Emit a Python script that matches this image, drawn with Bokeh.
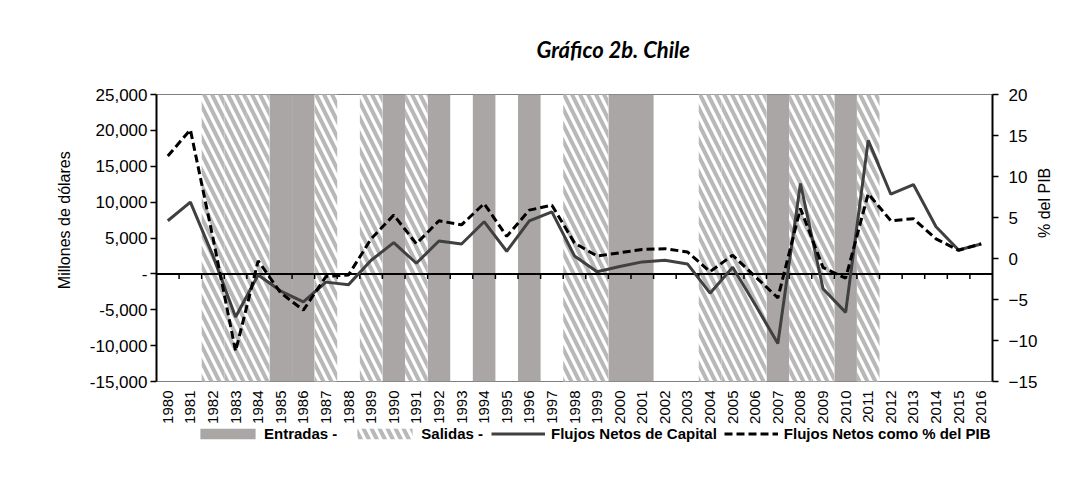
from math import pi
from bokeh.plotting import figure
from bokeh.layouts import column
from bokeh.models import (Range1d, LinearAxis, FixedTicker, NumeralTickFormatter,
                          Span, Legend, LegendItem, ColumnDataSource)
from bokeh.embed import file_html
from bokeh.resources import INLINE

# ---------------- data ----------------
years = [1980, 1981, 1982, 1983, 1984, 1985, 1986, 1987, 1988, 1989,
         1990, 1991, 1992, 1993, 1994, 1995, 1996, 1997, 1998, 1999,
         2000, 2001, 2002, 2003, 2004, 2005, 2006, 2007, 2008, 2009,
         2010, 2011, 2012, 2013, 2014, 2015, 2016]

# Flujos netos de capital (millones de dólares)
flujos = [7400, 10000, 2500, -6000, -150, -2400, -3900, -1150, -1500, 1900,
          4350, 1480, 4580, 4170, 7270, 3150, 7400, 8650, 2500, 300,
          1020, 1670, 1900, 1390, -2690, 920, -4300, -9700, 12600, -2080,
          -5370, 18600, 11100, 12450, 6570, 3330, 4170]

# Flujos netos como % del PIB
pct_pib = [12.5, 15.7, 2.5, -11.3, -0.3, -4.2, -6.3, -2.2, -2.0, 2.4,
           5.3, 1.8, 4.6, 4.1, 6.7, 2.7, 5.9, 6.5, 1.9, 0.3,
           0.7, 1.1, 1.2, 0.8, -1.6, 0.4, -2.2, -4.8, 6.1, -1.1,
           -2.4, 7.9, 4.6, 4.85, 2.4, 1.0, 1.8]

entradas_years = [1985, 1986, 1990, 1992, 1994, 1996, 2000, 2001, 2007, 2010]
salidas_years = [1982, 1983, 1984, 1987, 1989, 1991, 1998, 1999, 2004, 2005,
                 2006, 2008, 2009, 2011]

left_min, left_max, left_step = -15000, 25000, 5000
right_min, right_max, right_step = -15, 20, 5

title_text = "Gráfico 2b. Chile"
left_label = "Millones de dólares"
right_label = "% del PIB"
legend_labels = ["Entradas -", "Salidas -", "Flujos Netos de Capital",
                 "Flujos Netos como % del PIB"]

# ---------------- styles ----------------
FONT = "Liberation Sans"
ENT_COLOR = "#aaa6a6"
SOL_COLOR = "#404040"
HATCH = dict(hatch_pattern="\\", hatch_color="#b8b8b8",
             hatch_weight=4, hatch_scale=16)
NBSP = "\u00a0"

n = len(years)
centers = [i + 0.5 for i in range(n)]

ent_src = ColumnDataSource(dict(
    left=[years.index(y) for y in entradas_years],
    right=[years.index(y) + 1 for y in entradas_years]))
sal_src = ColumnDataSource(dict(
    left=[years.index(y) for y in salidas_years],
    right=[years.index(y) + 1 for y in salidas_years]))
line_src = ColumnDataSource(dict(x=centers, flujos=flujos, pct=pct_pib))

# ---------------- main figure ----------------
p = figure(width=1091, height=426,
           x_range=Range1d(0, n), y_range=Range1d(left_min, left_max),
           output_backend="svg", toolbar_location=None,
           min_border_left=156, min_border_right=99,
           min_border_top=94, min_border_bottom=44,
           title=title_text)
p.background_fill_color = "white"
p.border_fill_color = "white"
p.outline_line_color = None
p.xgrid.visible = False
p.ygrid.visible = False

p.title.align = "left"
p.title.offset = 380
p.title.text_font = "Lato"
p.title.text_font_size = "22px"
p.title.text_font_style = "bold italic"
p.title.text_color = "black"
p.title.standoff = 64

p.extra_y_ranges = {"pct": Range1d(right_min, right_max)}

# frame top / bottom thin lines under bands
for loc in (left_min, left_max):
    p.add_layout(Span(location=loc, dimension="width", line_color="black",
                      line_width=1, level="underlay"))

# bands
p.quad(left="left", right="right", bottom=left_min, top=left_max,
       source=ent_src, fill_color=ENT_COLOR, line_color=None)
p.quad(left="left", right="right", bottom=left_min, top=left_max,
       source=sal_src, fill_color="white", line_color=None, **HATCH)

# zero line with ticks at category boundaries
p.segment(x0=[0], x1=[n], y0=[0], y1=[0], line_color="black", line_width=2)
p.segment(x0=list(range(1, n)), x1=list(range(1, n)),
          y0=[0] * (n - 1), y1=[-700] * (n - 1),
          line_color="black", line_width=1.5)

# lines
p.line("x", "flujos", source=line_src, line_color=SOL_COLOR, line_width=3)
p.line("x", "pct", source=line_src, line_color="black", line_width=3,
       line_dash="8 4", y_range_name="pct")

# ---------------- axes ----------------
xa = p.xaxis[0]
xa.ticker = FixedTicker(ticks=centers)
xa.major_label_overrides = {c: str(y) for c, y in zip(centers, years)}
xa.major_label_orientation = pi / 2
xa.axis_line_color = None
xa.major_tick_line_color = None
xa.minor_tick_line_color = None
xa.major_label_standoff = 3
xa.major_label_text_font = FONT
xa.major_label_text_font_size = "15px"
xa.major_label_text_color = "black"

ya = p.yaxis[0]
ya.ticker = FixedTicker(ticks=list(range(left_min, left_max + 1, left_step)))
ya.formatter = NumeralTickFormatter(format="0,0")
ya.major_label_overrides = {0: "-"}
ya.axis_line_color = "black"
ya.axis_line_width = 2
ya.major_tick_line_color = "black"
ya.major_tick_line_width = 1.5
ya.major_tick_out = 6
ya.major_tick_in = 0
ya.minor_tick_line_color = None
ya.major_label_standoff = 3
ya.major_label_text_font = FONT
ya.major_label_text_font_size = "17px"
ya.major_label_text_color = "black"
ya.axis_label = NBSP * 8 + left_label
ya.axis_label_text_font = FONT
ya.axis_label_text_font_size = "16px"
ya.axis_label_text_font_style = "normal"
ya.axis_label_text_color = "black"
ya.axis_label_standoff = 14

ra = LinearAxis(y_range_name="pct",
                ticker=FixedTicker(ticks=list(range(right_min, right_max + 1, right_step))))
ra.axis_line_color = "black"
ra.axis_line_width = 2
ra.major_tick_line_color = "black"
ra.major_tick_line_width = 1.5
ra.major_tick_out = 6
ra.major_tick_in = 0
ra.minor_tick_line_color = None
ra.major_label_standoff = 10
ra.major_label_text_font = FONT
ra.major_label_text_font_size = "17px"
ra.major_label_text_color = "black"
ra.axis_label = right_label
ra.axis_label_text_font = FONT
ra.axis_label_text_font_size = "16px"
ra.axis_label_text_font_style = "normal"
ra.axis_label_text_color = "black"
ra.axis_label_standoff = 4
try:
    ra.axis_label_orientation = pi / 2
except AttributeError:
    pass
p.add_layout(ra, "right")

# ---------------- legend strip ----------------
# (frame aligned with the main frame; data lies outside its x-range so only
#  the legend shows)
lf = figure(width=1091, height=74, x_range=Range1d(-3, -2),
            y_range=Range1d(left_min, left_max),
            output_backend="svg", toolbar_location=None,
            x_axis_location=None, y_axis_location=None,
            min_border_left=156, min_border_right=99,
            min_border_top=0, min_border_bottom=0)
lf.outline_line_color = None
lf.xgrid.visible = False
lf.ygrid.visible = False
lf.background_fill_color = "white"
lf.border_fill_color = "white"

d_ent = lf.quad(left="left", right="right", bottom=left_min, top=left_max,
                source=ent_src, fill_color=ENT_COLOR, line_color=None)
d_sal = lf.quad(left="left", right="right", bottom=left_min, top=left_max,
                source=sal_src, fill_color="white", line_color=None, **HATCH)
d_sol = lf.line("x", "flujos", source=line_src, line_color=SOL_COLOR, line_width=3)
d_dash = lf.line("x", "flujos", source=line_src, line_color="black",
                 line_width=3, line_dash="8 4")

common = dict(orientation="horizontal", label_text_font=FONT,
              label_text_font_size="15px", label_text_font_style="bold",
              label_text_color="black", border_line_color=None,
              background_fill_alpha=0, margin=0, padding=0)

leg_a = Legend(items=[LegendItem(label=legend_labels[0], renderers=[d_ent]),
                      LegendItem(label=legend_labels[1], renderers=[d_sal])],
               location=(193 - 156, 58), glyph_width=69, glyph_height=13,
               label_height=13, label_standoff=2, spacing=13, **common)
leg_b = Legend(items=[LegendItem(label=legend_labels[2], renderers=[d_sol]),
                      LegendItem(label=legend_labels[3], renderers=[d_dash])],
               location=(491 - 156, 58), glyph_width=54, glyph_height=13,
               label_height=13, label_standoff=6, spacing=7, **common)
lf.add_layout(leg_a, "center")
lf.add_layout(leg_b, "center")

layout = column(p, lf, spacing=0)
open("out.html", "w").write(file_html(layout, INLINE))
